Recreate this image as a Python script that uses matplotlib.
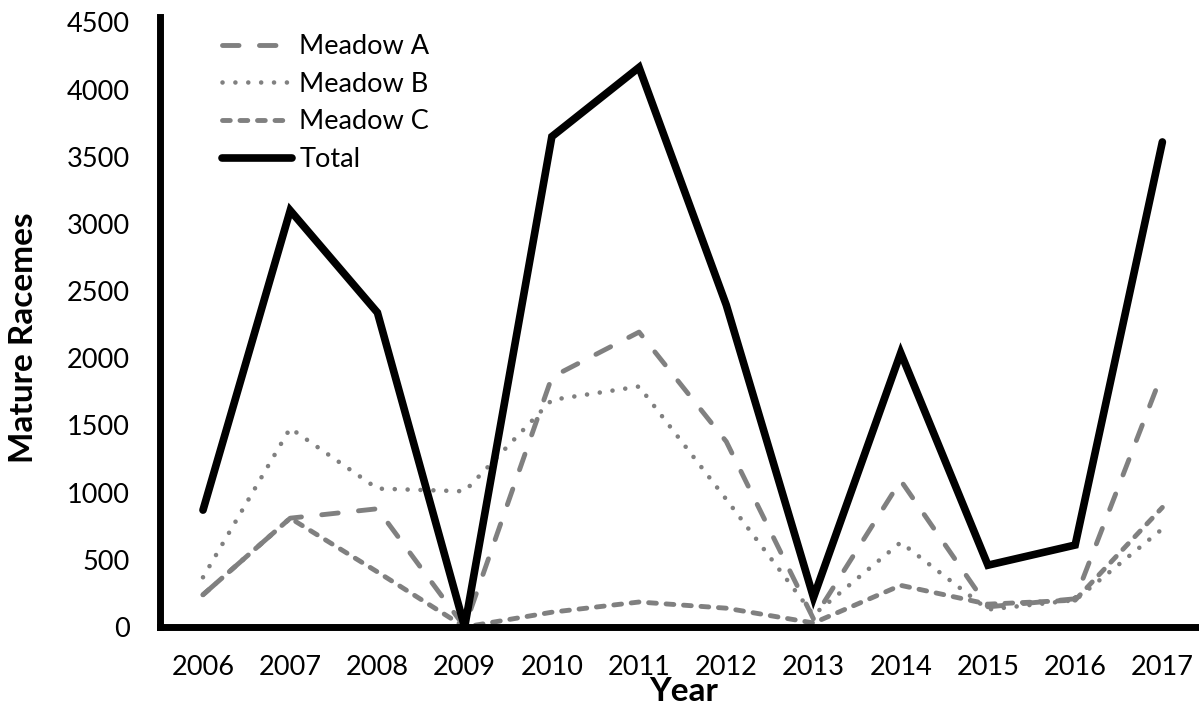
import matplotlib
matplotlib.use("Agg")
import matplotlib.pyplot as plt

years = ["2006", "2007", "2008", "2009", "2010", "2011", "2012", "2013", "2014", "2015", "2016", "2017"]
meadow_a = [240, 810, 880, 0, 1860, 2195, 1380, 60, 1090, 150, 210, 1890]
meadow_b = [370, 1480, 1030, 1010, 1690, 1790, 950, 90, 630, 130, 200, 730]
meadow_c = [240, 810, 410, 0, 110, 186, 140, 30, 310, 170, 200, 890]
total = [870, 3100, 2340, 0, 3650, 4165, 2396, 220, 2040, 460, 610, 3610]
yticks = [0, 500, 1000, 1500, 2000, 2500, 3000, 3500, 4000, 4500]

plt.rcParams['font.family'] = ['Lato', 'DejaVu Sans']

W, H = 1199, 708
fig = plt.figure(figsize=(W / 100, H / 100), dpi=100)
ax = fig.add_axes([160 / W, 1 - 627 / H, (W - 160) / W, (627 - 17) / H])

x = list(range(len(years)))
gray = "#808080"
la, = ax.plot(x, meadow_a, color=gray, lw=3.5, dashes=(3.4, 4.2), dash_capstyle='round',
              label="Meadow A")
lb, = ax.plot(x, meadow_b, color=gray, lw=3.3, dashes=(0.01, 2.8), dash_capstyle='round',
              label="Meadow B")
lc, = ax.plot(x, meadow_c, color=gray, lw=3.5, dashes=(1.6, 2.0), dash_capstyle='round',
              label="Meadow C")
lt, = ax.plot(x, total, color="black", lw=5.5, solid_capstyle='round',
              solid_joinstyle='miter', label="Total")

ax.set_xlim(-0.493, 11.42)
ax.set_ylim(0, 4540)
ax.set_xticks(x)
ax.set_xticklabels(years)
ax.set_yticks(yticks)
ax.set_yticklabels([str(v) for v in yticks])
ax.tick_params(axis='both', length=0, labelsize=19.5, colors='black')
ax.tick_params(axis='x', pad=20)
ax.tick_params(axis='y', pad=22)

for s in ['top', 'right']:
    ax.spines[s].set_visible(False)
for s in ['left', 'bottom']:
    ax.spines[s].set_linewidth(5)
    ax.spines[s].set_color('black')
    ax.spines[s].set_capstyle('projecting')

fig.text(24 / W, 1 - 338 / H, "Mature Racemes", rotation=90, fontsize=24, fontweight='bold',
         ha='center', va='center')
fig.text(684 / W, 1 - 701 / H, "Year", fontsize=24, fontweight='bold', ha='center', va='baseline')

leg = ax.legend(handles=[la, lb, lc, lt], loc='upper left',
                bbox_to_anchor=(222 / W, 1 - 34 / H), bbox_transform=fig.transFigure,
                frameon=False, fontsize=19.5, handlelength=2.6, handletextpad=0.25,
                labelspacing=0.47, borderpad=0, borderaxespad=0)

fig.savefig("out.png", dpi=100, facecolor='white')
